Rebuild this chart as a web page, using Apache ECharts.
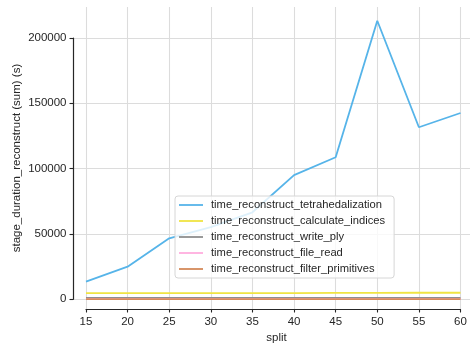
<!DOCTYPE html>
<html>
<head>
<meta charset="utf-8">
<script src="https://cdn.jsdelivr.net/npm/echarts@6/dist/echarts.min.js"></script>
<style>
  html, body { margin: 0; padding: 0; background: #ffffff; }
  #chart { width: 470px; height: 345px; }
</style>
</head>
<body>
<div id="chart"></div>
<script>
// split values on the x axis
const splits = [15, 20, 25, 30, 35, 40, 45, 50, 55, 60];

// summed stage durations per split (seconds)
const tetrahedalization = [13500, 25000, 46700, 55200, 66600, 95100, 108700, 213200, 131700, 142600];
const calculateIndices  = [4700, 4700, 4800, 4800, 4800, 4800, 4900, 4900, 5000, 5000];
const writePly          = [1000, 1000, 1000, 1000, 1000, 1000, 1000, 1000, 1000, 1000];
const fileRead          = [250, 250, 250, 250, 250, 250, 250, 250, 250, 250];
const filterPrimitives  = [80, 80, 80, 80, 80, 80, 80, 80, 80, 80];

const seriesNames = [
  'time_reconstruct_tetrahedalization',
  'time_reconstruct_calculate_indices',
  'time_reconstruct_write_ply',
  'time_reconstruct_file_read',
  'time_reconstruct_filter_primitives'
];
const seriesValues = [tetrahedalization, calculateIndices, writePly, fileRead, filterPrimitives];
const seriesColors = ['#56b4e9', '#f0e442', '#8f8f8f', '#ffadde', '#d4895a'];

// tick labels
const xTicks = { min: 15, max: 60, step: 5 };
const yTicks = { min: 0, max: 200000, step: 50000 };

const FONT = '"Liberation Sans", Arial, sans-serif';
const TEXT = '#262626';
const GRID = '#dcdcdc';

const chart = echarts.init(document.getElementById('chart'), null, { renderer: 'canvas' });

const series = seriesNames.map((name, i) => ({
  name: name,
  type: 'line',
  xAxisIndex: 0,
  yAxisIndex: 0,
  data: splits.map((s, j) => [s, seriesValues[i][j]]),
  symbol: 'none',
  lineStyle: { width: 1.8, color: seriesColors[i] },
  itemStyle: { color: seriesColors[i] },
  z: 3
}));

const plain = v => String(v);
const fixedGrid = { containLabel: false, outerBoundsMode: 'none' };

chart.setOption({
  animation: false,
  backgroundColor: '#ffffff',
  textStyle: { fontFamily: FONT },
  grid: [
    // plotting area with the background grid
    Object.assign({ left: 74, right: 0, top: 7, bottom: 36 }, fixedGrid),
    // trimmed left spine, 0 .. 200000
    Object.assign({ left: 73, right: 0, top: 38, bottom: 45.7 }, fixedGrid),
    // trimmed bottom spine, 15 .. 60
    Object.assign({ left: 86, right: 9.5, top: 100, bottom: 36 }, fixedGrid)
  ],
  xAxis: [
    {
      gridIndex: 0, type: 'value', min: 13.56, max: 61.14, splitNumber: 10,
      axisLine: { show: false }, axisTick: { show: false }, axisLabel: { show: false },
      splitLine: { show: true, showMinLine: false, showMaxLine: false, lineStyle: { color: GRID, width: 1.1 } },
      name: 'split', nameLocation: 'middle', nameGap: 23,
      nameTextStyle: { color: TEXT, fontSize: 11.5, fontFamily: FONT, padding: [0, 0, 0, 9] }
    },
    { gridIndex: 1, type: 'value', show: false, min: 0, max: 1 },
    {
      gridIndex: 2, type: 'value', min: xTicks.min, max: xTicks.max, interval: xTicks.step,
      axisLine: { show: true, lineStyle: { color: TEXT, width: 1.2 } },
      axisTick: { show: true, length: 3.5, lineStyle: { color: TEXT, width: 1.1 } },
      axisLabel: { color: TEXT, fontSize: 11.5, margin: 6.5, fontFamily: FONT, formatter: plain },
      splitLine: { show: false }
    }
  ],
  yAxis: [
    {
      gridIndex: 0, type: 'value', min: -7424, max: 223730, splitNumber: 5,
      axisLine: { show: false }, axisTick: { show: false }, axisLabel: { show: false },
      splitLine: { show: true, showMinLine: false, showMaxLine: false, lineStyle: { color: GRID, width: 1.1 } },
      name: 'stage_duration_reconstruct (sum) (s)', nameLocation: 'middle', nameGap: 51,
      nameTextStyle: { color: TEXT, fontSize: 11.5, fontFamily: FONT }
    },
    {
      gridIndex: 1, type: 'value', min: yTicks.min, max: yTicks.max, interval: yTicks.step,
      axisLine: { show: true, lineStyle: { color: TEXT, width: 1.2 } },
      axisTick: { show: true, length: 3.5, lineStyle: { color: TEXT, width: 1.1 } },
      axisLabel: { color: TEXT, fontSize: 11.5, margin: 6.5, fontFamily: FONT, formatter: plain },
      splitLine: { show: false }
    },
    { gridIndex: 2, type: 'value', show: false, min: 0, max: 1 }
  ],
  legend: {
    orient: 'vertical',
    left: 175,
    top: 196,
    data: seriesNames,
    icon: 'rect',
    itemWidth: 24,
    itemHeight: 1.8,
    itemGap: 0,
    padding: [1, 9, 1, 4],
    backgroundColor: 'rgba(255,255,255,0.8)',
    borderColor: '#d6d6d6',
    borderWidth: 1,
    borderRadius: 3,
    textStyle: { color: TEXT, fontSize: 11.2, lineHeight: 16, fontFamily: FONT, padding: [0, 0, 0, 3] }
  },
  series: series
});
</script>
</body>
</html>
